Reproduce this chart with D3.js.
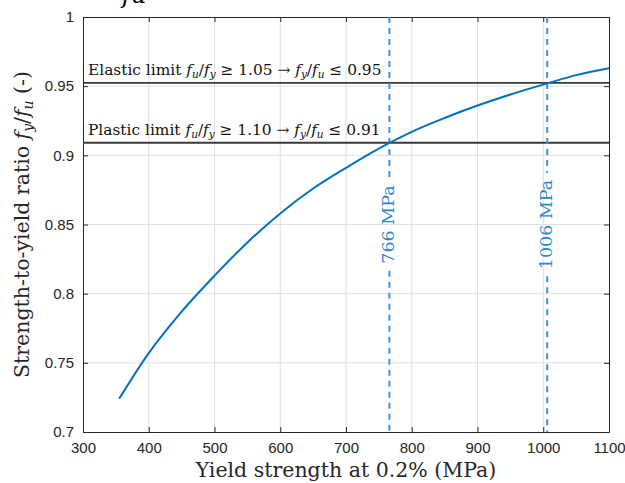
<!DOCTYPE html>
<html>
<head>
<meta charset="utf-8">
<script src="https://cdn.jsdelivr.net/npm/d3@7"></script>
<style>
  body { margin: 0; background: #fff; }
  svg { display: block; }
  .tick text { font-family: "Liberation Sans", Arial, sans-serif; font-size: 15px; fill: #262626; }
  .serif { font-family: "DejaVu Serif", serif; }
</style>
</head>
<body>
<div class="container"></div>
<script>
// yield strength (MPa) vs fy/fu
const yieldStrength = [355, 400, 450, 500, 550, 600, 650, 700, 766, 800, 850, 900, 950, 1006, 1050, 1100];
const ratio = [0.724, 0.757, 0.787, 0.813, 0.837, 0.858, 0.876, 0.891, 0.909, 0.917, 0.927, 0.936, 0.944, 0.952, 0.958, 0.963];

const xTicks = [300, 400, 500, 600, 700, 800, 900, 1000, 1100];
const yTicks = [0.7, 0.75, 0.8, 0.85, 0.9, 0.95, 1];

const limitValues = [1 / 1.05, 1 / 1.10];
const limitNames = ["Elastic limit", "Plastic limit"];
const limitFactors = ["1.05", "1.10"];
const limitRounded = ["0.95", "0.91"];

const markerValues = [766, 1006];
const markerLabels = ["766 MPa", "1006 MPa"];

const width = 625, height = 483;
const margin = { top: 17, right: 16, bottom: 51, left: 83 };

const svg = d3.select(".container").append("svg")
  .attr("width", width).attr("height", height);

const x = d3.scaleLinear().domain([300, 1100]).range([margin.left, width - margin.right]);
const y = d3.scaleLinear().domain([0.7, 1]).range([height - margin.bottom, margin.top]);

// grid
svg.append("g").selectAll("line").data(xTicks.slice(1, -1)).enter().append("line")
  .attr("x1", d => x(d)).attr("x2", d => x(d))
  .attr("y1", y(0.7)).attr("y2", y(1))
  .attr("stroke", "#dfdfdf").attr("stroke-width", 1);
svg.append("g").selectAll("line").data(yTicks.slice(1, -1)).enter().append("line")
  .attr("y1", d => y(d)).attr("y2", d => y(d))
  .attr("x1", x(300)).attr("x2", x(1100))
  .attr("stroke", "#dfdfdf").attr("stroke-width", 1);

// axes, ticks inward, box on
function styleAxis(g) {
  g.select(".domain").attr("stroke", "#262626");
  g.selectAll(".tick line").attr("stroke", "#262626");
}
svg.append("g").attr("transform", `translate(0,${y(0.7)})`)
  .call(d3.axisBottom(x).tickValues(xTicks).tickFormat(d => String(d)).tickSizeInner(-5).tickSizeOuter(0).tickPadding(10))
  .call(styleAxis);
svg.append("g").attr("transform", `translate(0,${y(1)})`)
  .call(d3.axisTop(x).tickValues(xTicks).tickSizeInner(-5).tickSizeOuter(0).tickFormat(""))
  .call(styleAxis);
svg.append("g").attr("transform", `translate(${x(300)},0)`)
  .call(d3.axisLeft(y).tickValues(yTicks).tickFormat(d => String(d)).tickSizeInner(-5).tickSizeOuter(0).tickPadding(9))
  .call(styleAxis);
svg.append("g").attr("transform", `translate(${x(1100)},0)`)
  .call(d3.axisRight(y).tickValues(yTicks).tickSizeInner(-5).tickSizeOuter(0).tickFormat(""))
  .call(styleAxis);

// helper for text with italic / subscript pieces
function rich(text, parts, size) {
  parts.forEach(p => {
    const t = text.append("tspan").text(p.t);
    if (p.i) t.attr("font-style", "italic");
    if (p.sub) t.attr("font-size", size * 0.68).attr("dy", size * 0.2);
    if (p.up) t.attr("dy", -size * 0.2);
  });
}
function ratioParts(a, b, first) {
  return [
    { t: "f", i: true, up: !first }, { t: a, i: true, sub: true },
    { t: "/", up: true }, { t: "f", i: true }, { t: b, i: true, sub: true }
  ];
}

// horizontal limit lines
limitValues.forEach((v, i) => {
  svg.append("line")
    .attr("x1", x(300)).attr("x2", x(1100))
    .attr("y1", y(v)).attr("y2", y(v))
    .attr("stroke", "#3a3a3a").attr("stroke-width", 1.8);
  const t = svg.append("text").attr("class", "serif")
    .attr("x", x(300) + 5).attr("y", y(v) - 8)
    .attr("font-size", 15.4).attr("fill", "#111");
  rich(t, [{ t: limitNames[i] + " " }]
    .concat(ratioParts("u", "y", true))
    .concat([{ t: " \u2265 " + limitFactors[i] + " \u2192 ", up: true }])
    .concat(ratioParts("y", "u", true))
    .concat([{ t: " \u2264 " + limitRounded[i], up: true }]), 15.4);
});

// vertical dashed markers with labels
const midY = (y(0.7) + y(1)) / 2;
markerValues.forEach((v, i) => {
  const lab = svg.append("text").attr("class", "serif")
    .attr("transform", `translate(${x(v) + 5},${midY}) rotate(-90)`)
    .attr("text-anchor", "middle")
    .attr("font-size", 17.5).attr("fill", "#2f86c9")
    .text(markerLabels[i]);
  const half = lab.node().getComputedTextLength() / 2 + 7;
  [[y(1), midY - half], [midY + half, y(0.7)]].forEach(seg => {
    svg.append("line")
      .attr("x1", x(v)).attr("x2", x(v))
      .attr("y1", seg[0]).attr("y2", seg[1])
      .attr("stroke", "#3f95d3").attr("stroke-width", 2)
      .attr("stroke-dasharray", "6,5");
  });
});

// curve
svg.append("path")
  .datum(yieldStrength.map((d, i) => [d, ratio[i]]))
  .attr("fill", "none").attr("stroke", "#0072BD").attr("stroke-width", 2)
  .attr("d", d3.line().x(d => x(d[0])).y(d => y(d[1])).curve(d3.curveMonotoneX));

// axis labels
svg.append("text").attr("class", "serif")
  .attr("x", (x(300) + x(1100)) / 2).attr("y", 477)
  .attr("text-anchor", "middle").attr("font-size", 20.5).attr("fill", "#262626")
  .text("Yield strength at 0.2% (MPa)");

const yl = svg.append("text").attr("class", "serif")
  .attr("transform", `translate(29,${midY}) rotate(-90)`)
  .attr("text-anchor", "middle").attr("font-size", 20.5).attr("fill", "#262626");
rich(yl, [{ t: "Strength-to-yield ratio " }, { t: "f", i: true }, { t: "y", i: true, sub: true },
  { t: "/", up: true }, { t: "f", i: true }, { t: "u", i: true, sub: true }, { t: " (-)", up: true }], 20.5);

// clipped title remnant at the very top
const tt = svg.append("text").attr("class", "serif")
  .attr("x", 122).attr("y", 3).attr("font-size", 24).attr("fill", "#000");
rich(tt, [{ t: "f", i: true }, { t: "u", i: true }], 24);
</script>
</body>
</html>
